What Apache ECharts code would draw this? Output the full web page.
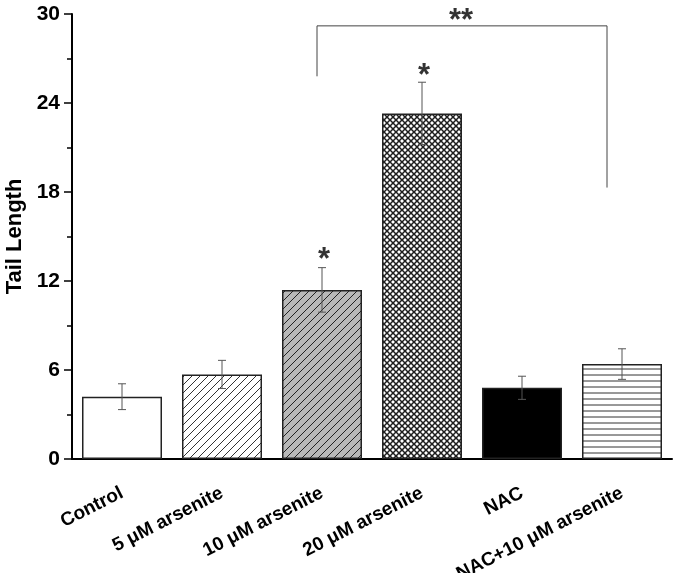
<!DOCTYPE html>
<html>
<head>
<meta charset="utf-8">
<script src="https://cdn.jsdelivr.net/npm/echarts@6/dist/echarts.min.js"></script>
<style>html,body{margin:0;padding:0;background:#fff}#c{width:673px;height:573px}</style>
</head>
<body>
<div id="c"></div>
<script>
const categories = ['Control', '5 μM arsenite', '10 μM arsenite', '20 μM arsenite', 'NAC', 'NAC+10 μM arsenite'];
const means = [4.2, 5.7, 11.4, 23.3, 4.8, 6.4];
const errors = [0.87, 0.95, 1.5, 2.1, 0.78, 1.03];
const yTicks = [0, 6, 12, 18, 24, 30];
const starPoints = [[2, 13.75], [3, 26.15]];
const bracketPoints = [[1.95, 25.8], [1.95, 29.2], [4.85, 29.2], [4.85, 18.3]];
const bracketLabel = [[3.39, 29.9]];

const FONT = "'Liberation Sans', Arial, sans-serif";

function makePattern(kind) {
  const p = kind === 'horiz' ? 6 : (kind === 'cross' ? 6 : 8);
  const c = document.createElement('canvas');
  c.width = p; c.height = p;
  const g = c.getContext('2d');
  let bg = '#ffffff', fg = '#333333', lw = 1;
  if (kind === 'diagGray') { bg = '#b8b8b8'; fg = '#222222'; }
  if (kind === 'cross') { fg = '#1e1e1e'; lw = 1.5; }
  g.fillStyle = bg; g.fillRect(0, 0, p, p);
  g.strokeStyle = fg; g.lineWidth = lw;
  function diagUp() {
    g.beginPath();
    g.moveTo(-1, p + 1); g.lineTo(p + 1, -1);
    g.moveTo(-2, 1); g.lineTo(1, -2);
    g.moveTo(p - 1, p + 2); g.lineTo(p + 2, p - 1);
    g.stroke();
  }
  function diagDown() {
    g.beginPath();
    g.moveTo(-1, -1); g.lineTo(p + 1, p + 1);
    g.moveTo(-2, p - 1); g.lineTo(1, p + 2);
    g.moveTo(p - 1, -2); g.lineTo(p + 2, 1);
    g.stroke();
  }
  if (kind === 'diag' || kind === 'diagGray') diagUp();
  if (kind === 'cross') { diagUp(); diagDown(); }
  if (kind === 'horiz') {
    g.beginPath(); g.moveTo(0, 3); g.lineTo(p, 3); g.stroke();
  }
  return { image: c, repeat: 'repeat' };
}

const fills = [
  makePattern('white'),
  makePattern('diag'),
  makePattern('diagGray'),
  makePattern('cross'),
  '#000000',
  makePattern('horiz')
];

const barData = means.map((v, i) => ({ value: v, itemStyle: { color: fills[i] } }));
const errData = means.map((v, i) => [i, v, errors[i]]);

const chart = echarts.init(document.getElementById('c'), null, { renderer: 'canvas' });
chart.setOption({
  animation: false,
  backgroundColor: '#ffffff',
  grid: { left: 72, right: 1, top: 14, bottom: 114, containLabel: false, outerBoundsMode: 'none' },
  xAxis: [
    {
      type: 'category', data: categories, position: 'bottom',
      axisLine: { onZero: false, lineStyle: { color: '#000', width: 2 } },
      axisTick: { alignWithLabel: true, length: 8, lineStyle: { color: '#000', width: 1.5 } },
      axisLabel: { rotate: 27, margin: 33, color: '#000', fontSize: 19, fontWeight: 'bold', fontFamily: FONT, interval: 0 }
    },
    {
      type: 'category', data: categories, position: 'bottom',
      axisLine: { show: false, onZero: false },
      axisTick: { length: 5, lineStyle: { color: '#000', width: 1.5 } },
      axisLabel: { show: false }
    },
    { type: 'value', min: -0.5, max: 5.5, show: false }
  ],
  yAxis: {
    type: 'value', min: yTicks[0], max: yTicks[yTicks.length - 1], interval: yTicks[1] - yTicks[0],
    name: 'Tail Length', nameLocation: 'middle', nameGap: 46,
    nameTextStyle: { color: '#000', fontSize: 22, fontWeight: 'bold', fontFamily: FONT },
    axisLine: { show: true, onZero: false, lineStyle: { color: '#000', width: 2 } },
    axisTick: { show: true, length: 8, lineStyle: { color: '#000', width: 1.5 } },
    minorTick: { show: true, splitNumber: 2, length: 5, lineStyle: { color: '#000', width: 1.5 } },
    splitLine: { show: false },
    axisLabel: { margin: 12, color: '#000', fontSize: 21, fontWeight: 'bold', fontFamily: FONT }
  },
  series: [
    {
      type: 'bar', xAxisIndex: 0, data: barData, barWidth: '80%',
      itemStyle: { borderColor: '#222', borderWidth: 1.5 }
    },
    {
      type: 'custom', xAxisIndex: 0, data: errData, z: 5,
      renderItem: function (params, api) {
        const i = api.value(0), m = api.value(1), e = api.value(2);
        const top = api.coord([i, m + e]);
        const bot = api.coord([i, m - e]);
        const hw = 4;
        const st = { stroke: '#555', lineWidth: 1 };
        return {
          type: 'group', children: [
            { type: 'line', shape: { x1: top[0], y1: top[1], x2: bot[0], y2: bot[1] }, style: st },
            { type: 'line', shape: { x1: top[0] - hw, y1: top[1], x2: top[0] + hw, y2: top[1] }, style: st },
            { type: 'line', shape: { x1: bot[0] - hw, y1: bot[1], x2: bot[0] + hw, y2: bot[1] }, style: st }
          ]
        };
      }
    },
    {
      type: 'scatter', xAxisIndex: 0, data: starPoints, symbolSize: 0, z: 6,
      label: { show: true, position: 'inside', formatter: '*', offset: [2, 5], color: '#000', fontSize: 31, fontWeight: 'bold', fontFamily: FONT }
    },
    {
      type: 'line', xAxisIndex: 2, data: bracketPoints, showSymbol: false, symbol: 'none',
      lineStyle: { color: '#444', width: 1 }, clip: false, z: 4
    },
    {
      type: 'scatter', xAxisIndex: 2, data: bracketLabel, symbolSize: 0, z: 6,
      label: { show: true, position: 'inside', formatter: '**', offset: [0, 6], color: '#000', fontSize: 31, fontWeight: 'bold', fontFamily: FONT }
    }
  ]
});
</script>
</body>
</html>
